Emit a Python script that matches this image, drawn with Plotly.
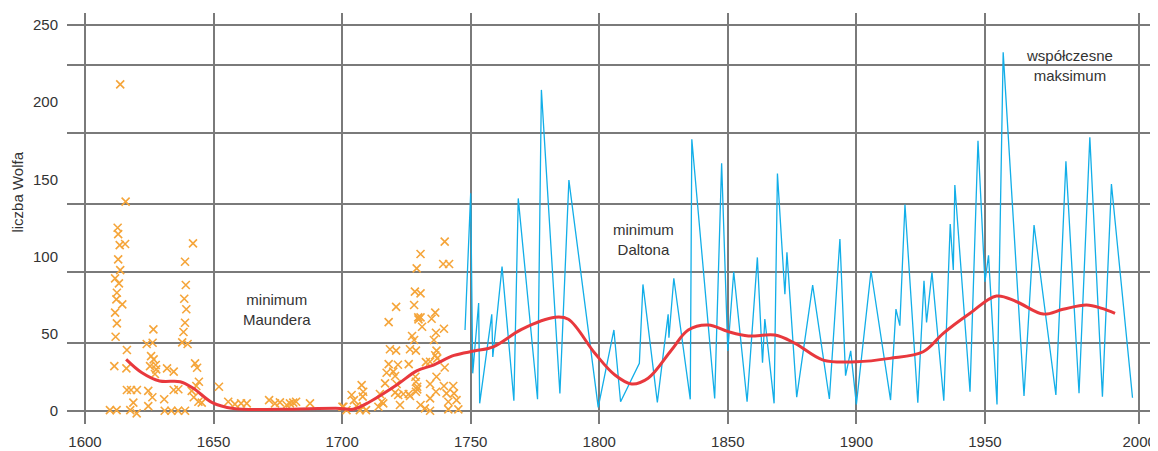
import plotly.graph_objects as go

# ---------------- data ----------------
orange_years = [
    1613.7, 1615.8, 1612.7, 1612.9, 1613.5, 1615.6, 1612.9, 1613.7, 1611.7, 1613.2,
    1612.4, 1612.2, 1614.5, 1611.7, 1612.4, 1611.9, 1611.4, 1616.3, 1616.1, 1616.3,
    1617.9, 1620.2, 1618.8, 1609.7, 1612.3, 1617.6, 1620.1, 1626.6, 1624.0, 1626.3,
    1625.7, 1626.7, 1627.5, 1625.3, 1627.7, 1627.2, 1624.6, 1626.2, 1624.6, 1631.9,
    1634.5, 1634.5, 1636.3, 1630.8, 1631.0, 1633.6, 1636.2, 1638.9, 1642.0, 1638.9,
    1639.2, 1638.6, 1639.4, 1638.9, 1638.3, 1637.8, 1639.9, 1642.8, 1643.6, 1644.3,
    1643.3, 1641.5, 1642.3, 1644.1, 1645.4, 1652.1, 1655.7, 1658.3, 1660.7, 1662.9,
    1671.6, 1673.9, 1675.8, 1678.4, 1679.7, 1681.0, 1682.1, 1687.5, 1700.1,
    1739.9, 1730.5, 1729.0, 1739.3, 1741.6, 1728.3, 1730.5, 1721.0, 1728.0, 1718.1,
    1729.6, 1730.5, 1729.7, 1734.8, 1736.2, 1731.1, 1739.6, 1727.2, 1728.0, 1736.5,
    1735.7, 1718.6, 1721.0, 1726.4, 1728.7, 1736.7, 1736.2, 1737.0, 1718.1, 1721.7,
    1725.9, 1732.6, 1734.2, 1739.9, 1717.3, 1719.9, 1720.6, 1728.5, 1736.7, 1716.7,
    1721.2, 1728.7, 1729.2, 1734.2, 1739.6, 1743.2, 1728.7, 1729.2, 1736.5, 1740.6,
    1743.5, 1714.7, 1715.4, 1720.6, 1721.8, 1723.8, 1726.4, 1725.9, 1734.2, 1741.3,
    1744.5, 1722.5, 1730.5, 1732.2, 1734.2, 1741.3, 1745.2, 1707.6, 1708.2, 1708.0,
    1703.7, 1704.6, 1700.5, 1701.7, 1705.6, 1706.9, 1708.2, 1709.3, 1714.1, 1716.0,
]
orange_values = [
    211.6, 135.6, 118.7, 114.6, 107.5, 108.2, 98.2, 91.3, 85.9, 82.7,
    76.6, 72.3, 69.1, 63.7, 56.8, 48.1, 29.1, 39.5, 27.6, 13.6,
    13.6, 13.6, 5.4, 0.6, 0.6, 0.6, -1.5, 52.9, 43.4, 44.2,
    35.6, 33.5, 29.8, 29.1, 27.0, 24.0, 13.1, 8.9, 3.2, 27.6,
    25.5, 13.6, 14.1, 7.6, 0.2, 0.2, 0.2, 0.2, 108.6, 96.7,
    81.6, 72.7, 65.9, 57.2, 51.2, 44.5, 43.4, 30.9, 28.0, 19.0,
    16.2, 13.1, 8.9, 6.0, 5.4, 15.7, 6.0, 4.5, 5.0, 5.0,
    7.1, 5.0, 5.6, 3.9, 5.0, 5.4, 6.0, 5.0, 2.8,
    109.7, 101.7, 92.4, 95.2, 95.2, 77.3, 76.2, 67.5, 68.7, 57.6,
    60.7, 60.7, 59.4, 59.8, 63.7, 54.6, 53.3, 48.6, 46.0, 50.7,
    46.0, 40.0, 39.1, 40.0, 39.1, 39.1, 36.1, 34.1, 30.4, 30.0,
    30.4, 31.7, 31.9, 28.2, 24.8, 25.5, 22.7, 22.2, 22.2, 17.9,
    17.5, 19.0, 15.7, 17.5, 16.2, 16.2, 12.5, 14.0, 12.5, 11.4,
    11.4, 11.0, 6.0, 11.9, 10.4, 11.0, 9.7, 11.0, 8.2, 6.0,
    7.1, 3.9, 3.9, 1.7, 0.2, 1.1, 1.1, 16.8, 12.5, 9.3,
    10.4, 7.1, 2.8, 0.6, 3.2, 0.6, 2.8, 0.6, 2.8, 5.0,
]

blue_years = [
    1747.8, 1750.0, 1750.8, 1753.1, 1753.5, 1758.2, 1758.6, 1762.2, 1766.8, 1768.5,
    1776.0, 1777.5, 1784.7, 1788.2, 1799.6, 1805.7, 1808.3, 1815.6, 1817.0, 1822.6,
    1826.8, 1827.1, 1829.0, 1835.4, 1836.0, 1844.9, 1847.6, 1850.0, 1852.3, 1857.5,
    1861.5, 1863.5, 1864.4, 1868.0, 1869.3, 1872.2, 1873.0, 1876.8, 1883.0, 1889.5,
    1893.6, 1895.8, 1897.8, 1900.0, 1905.7, 1913.3, 1915.4, 1916.9, 1918.9, 1923.9,
    1926.3, 1927.3, 1929.4, 1934.0, 1936.5, 1937.7, 1938.3, 1944.2, 1947.3, 1950.0,
    1951.4, 1954.7, 1957.1, 1965.2, 1969.1, 1977.6, 1981.5, 1986.6, 1990.8, 1995.7,
    1999.2, 2007.4,
]
blue_values = [
    52.5, 141.0, 24.4, 70.0, 5.0, 62.6, 35.0, 93.5, 6.7, 137.7,
    7.6, 208.0, 11.4, 149.6, 2.4, 52.5, 6.0, 30.9, 82.0, 5.6,
    62.6, 47.5, 86.0, 7.6, 176.0, 8.2, 160.4, 38.9, 90.2, 6.0,
    99.5, 31.3, 59.6, 5.0, 153.9, 75.6, 102.8, 9.0, 81.6, 7.8,
    111.4, 22.9, 39.0, 4.3, 90.7, 7.1, 66.0, 55.3, 133.8, 5.4,
    84.4, 57.4, 89.8, 6.7, 121.1, 91.3, 146.4, 12.5, 175.0, 83.7,
    100.8, 4.3, 232.3, 9.7, 120.5, 10.4, 161.7, 11.5, 177.3, 9.3,
    147.0, 8.6,
]

red_years = [
    1616.0, 1622.0, 1629.0, 1637.0, 1642.0, 1649.5, 1657.7, 1675.8, 1699.2, 1704.2,
    1710.8, 1721.2, 1729.0, 1735.5, 1743.5, 1751.7, 1758.8, 1769.8, 1782.8, 1788.0,
    1798.3, 1806.1, 1812.6, 1819.0, 1828.1, 1834.6, 1842.4, 1850.2, 1858.0, 1868.3,
    1876.0, 1887.1, 1900.0, 1913.0, 1926.0, 1933.8, 1944.2, 1954.5, 1962.3, 1972.7,
    1980.4, 1989.5, 1995.5, 2000.6,
]
red_values = [
    33.5, 25.0, 19.5, 19.0, 14.9, 5.5, 1.7, 1.1, 1.7, 1.1,
    6.0, 16.8, 26.0, 29.8, 36.0, 39.0, 41.6, 52.9, 60.7, 59.4,
    37.4, 23.3, 17.5, 21.2, 39.5, 52.5, 55.7, 51.4, 48.6, 49.2,
    44.0, 33.0, 31.9, 34.1, 38.4, 50.3, 63.3, 74.5, 70.8, 62.8,
    65.9, 68.7, 66.5, 63.3,
]

x_tick_vals = [1600, 1650, 1700, 1750, 1800, 1850, 1900, 1950, 2010]
x_tick_text = ["1600", "1650", "1700", "1750", "1800", "1850", "1900", "1950", "2000"]
y_tick_vals = [0, 50, 100, 150, 200, 250]
y_grid_vals = [0, 44, 90, 134, 180, 224, 250]

annotations_text = [
    ("minimum<br>Maundera", 1674.7, 66.0),
    ("minimum<br>Daltona", 1817.4, 111.4),
    ("współczesne<br>maksimum", 1982.7, 223.8),
]

# ---------------- figure ----------------
FONT = "Liberation Sans, Arial, sans-serif"
GRID = "#7a7a7a"
XR = [1593.0, 2014.2]
YR = [-8.4, 257.8]

fig = go.Figure()

fig.add_trace(go.Scatter(
    x=orange_years, y=orange_values, mode="markers",
    marker=dict(symbol="x-thin", size=8, color="#F5A53A",
                line=dict(width=1.6, color="#F5A53A")),
    hoverinfo="x+y", showlegend=False))

fig.add_trace(go.Scatter(
    x=blue_years, y=blue_values, mode="lines",
    line=dict(color="#12AEE8", width=1.3),
    showlegend=False))

fig.add_trace(go.Scatter(
    x=red_years, y=red_values, mode="lines",
    line=dict(color="#E8383D", width=3, shape="spline", smoothing=1.0),
    showlegend=False))

# overlay axis that carries only the horizontal grid lines
fig.add_trace(go.Scatter(x=[XR[0]], y=[YR[0]], yaxis="y2", mode="markers",
                         marker=dict(opacity=0), hoverinfo="skip", showlegend=False))

for text, xv, yv in annotations_text:
    fig.add_annotation(x=xv, y=yv, text=text, showarrow=False,
                       font=dict(family=FONT, size=15, color="#333333"),
                       align="center", xanchor="center", yanchor="middle")

fig.add_annotation(x=-0.0452, xref="paper", y=141.5, yref="y",
                   text="liczba Wolfa", textangle=-90, showarrow=False,
                   font=dict(family=FONT, size=15, color="#333333"),
                   xanchor="center", yanchor="middle")

# the page body adds an 8px offset, so margins compensate for it
fig.update_layout(
    width=1158, height=451,
    margin=dict(l=59, r=16, t=5, b=35, autoexpand=False),
    paper_bgcolor="white", plot_bgcolor="white",
    font=dict(family=FONT, size=15, color="#333333"),
    xaxis=dict(range=XR, tickvals=x_tick_vals, ticktext=x_tick_text,
               showgrid=True, gridcolor=GRID, gridwidth=1.6,
               zeroline=False, showline=False, ticks="",
               ticklabelstandoff=7, automargin=False,
               tickfont=dict(family=FONT, size=15, color="#333333")),
    yaxis=dict(range=YR, tickvals=y_tick_vals, showgrid=False,
               zeroline=False, showline=False, ticks="",
               ticklabelstandoff=8, automargin=False,
               tickfont=dict(family=FONT, size=15, color="#333333")),
    yaxis2=dict(range=YR, overlaying="y", side="left", tickvals=y_grid_vals,
                showgrid=True, gridcolor=GRID, gridwidth=1.6,
                showticklabels=False, zeroline=False, showline=False,
                ticks="", automargin=False),
)

fig.write_html("out.html")
